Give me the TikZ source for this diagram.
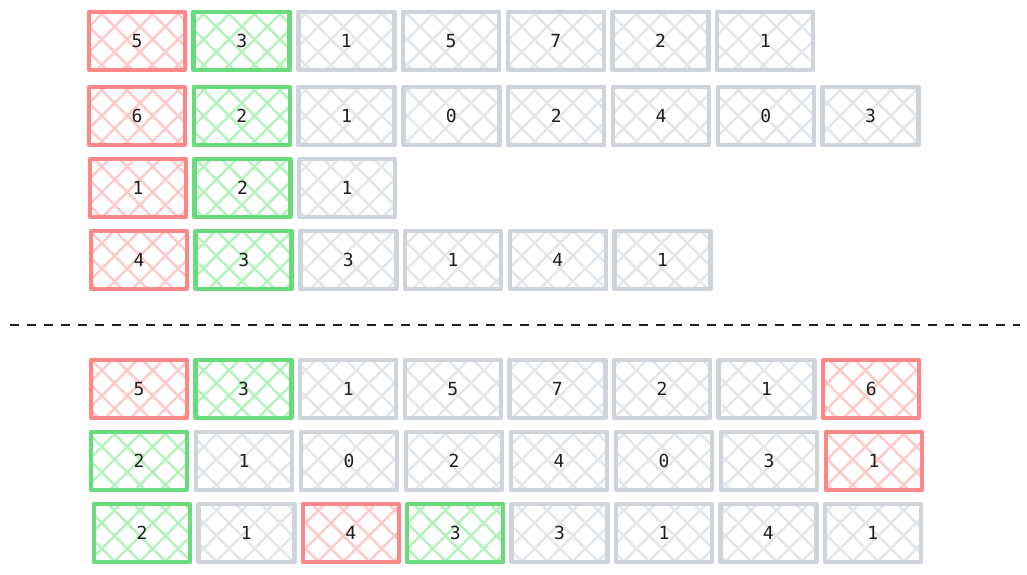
\documentclass[tikz,border=0pt]{standalone}
\usepackage{fontspec}
\setmonofont{DejaVu Sans Mono}
\usetikzlibrary{patterns.meta}

\definecolor{redline}{HTML}{FF8787}
\definecolor{redhatch}{HTML}{FFC9C9}
\definecolor{greenline}{HTML}{69DB7C}
\definecolor{greenhatch}{HTML}{B2F2BB}
\definecolor{grayline}{HTML}{CED4DA}
\definecolor{grayhatch}{HTML}{E3E6EA}
\definecolor{ink}{HTML}{1E1E1E}

\tikzset{
  cell/.style={draw=#1line, line width=4.5pt, line join=round,
    minimum width=96pt, minimum height=58pt, inner sep=0pt,
    pattern={Hatch[angle=45,distance=18pt,line width=2.4pt]},
    pattern color=#1hatch, text=ink, font=\ttfamily\fontsize{18}{18}\selectfont},
  divider/.style={ink, line width=1.5pt, dash pattern=on 9pt off 8pt}
}

\begin{document}
\begin{tikzpicture}[x=1pt,y=-1pt]
  \useasboundingbox (0,0) rectangle (1027,574);

  % top: the four input rows
  \foreach \v/\c [count=\i from 0] in {5/red,3/green,1/gray,5/gray,7/gray,2/gray,1/gray} {%
    \node[cell=\c] (a\i) at (137+\i*104.7,41) {\v};
  }
  \foreach \v/\c [count=\i from 0] in {6/red,2/green,1/gray,0/gray,2/gray,4/gray,0/gray,3/gray} {%
    \node[cell=\c] (b\i) at (137+\i*104.8,116) {\v};
  }
  \foreach \v/\c [count=\i from 0] in {1/red,2/green,1/gray} {%
    \node[cell=\c] (c\i) at (138+\i*104.5,188) {\v};
  }
  \foreach \v/\c [count=\i from 0] in {4/red,3/green,3/gray,1/gray,4/gray,1/gray} {%
    \node[cell=\c] (d\i) at (139+\i*104.7,260) {\v};
  }

  \coordinate (cutL) at (10,325);
  \coordinate (cutR) at (1020,325);
  \draw[divider] (cutL) -- (cutR);

  % bottom: the same values, packed into rows of eight
  \foreach \v/\c [count=\i from 0] in {5/red,3/green,1/gray,5/gray,7/gray,2/gray,1/gray,6/red} {%
    \node[cell=\c] (e\i) at (139+\i*104.6,389) {\v};
  }
  \foreach \v/\c [count=\i from 0] in {2/green,1/gray,0/gray,2/gray,4/gray,0/gray,3/gray,1/red} {%
    \node[cell=\c] (f\i) at (139+\i*105,461) {\v};
  }
  \foreach \v/\c [count=\i from 0] in {2/green,1/gray,4/red,3/green,3/gray,1/gray,4/gray,1/gray} {%
    \node[cell=\c] (g\i) at (142+\i*104.4,533) {\v};
  }
\end{tikzpicture}
\end{document}
